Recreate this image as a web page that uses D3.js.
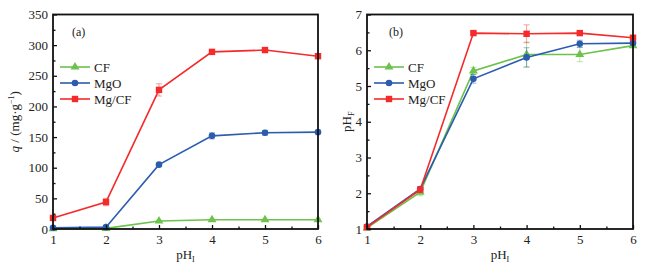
<!DOCTYPE html>
<html>
<head>
<meta charset="utf-8">
<script src="https://cdn.jsdelivr.net/npm/d3@7"></script>
<style>
  body { margin: 0; background: #fff; }
  svg text { font-family: 'Liberation Serif', 'Times New Roman', serif !important; fill: #222; }
</style>
</head>
<body>
<svg id="chart" width="671" height="272"></svg>
<script>
// x values shared by both panels
const phInitial = [1, 2, 3, 4, 5, 6];
const seriesNames = ["CF", "MgO", "Mg/CF"];
const seriesColors = ["#6cc24a", "#2b5cb0", "#f52a2a"];
const seriesShapes = ["triangle", "circle", "square"];

// panel (a): adsorption capacity q
const qCF = [0.5, 1, 13, 15, 15, 15];
const qMgO = [2, 3, 105, 152, 157, 158];
const qMgCF = [18, 44, 227, 289, 292, 282];
const qErrCF = [0, 0, 1, 1, 1, 1];
const qErrMgO = [0, 0, 2, 5, 4, 2];
const qErrMgCF = [2, 6, 10, 4, 3, 3];
const qTicks = [0, 50, 100, 150, 200, 250, 300, 350];

// panel (b): final pH
const pfCF = [1.03, 2.03, 5.42, 5.88, 5.88, 6.13];
const pfMgO = [1.07, 2.12, 5.2, 5.8, 6.18, 6.2];
const pfMgCF = [1.05, 2.1, 6.48, 6.46, 6.48, 6.35];
const pfErrCF = [0.03, 0.1, 0.1, 0.35, 0.2, 0.05];
const pfErrMgO = [0.03, 0.05, 0.12, 0.27, 0.1, 0.05];
const pfErrMgCF = [0.02, 0.05, 0.03, 0.25, 0.05, 0.03];
const pfTicks = [1, 2, 3, 4, 5, 6, 7];

const serif = "'Liberation Serif', 'Times New Roman', serif";
const svg = d3.select("#chart");

function drawPanel(cfg) {
  const x = d3.scaleLinear().domain([1, 6]).range([cfg.left, cfg.right]);
  const y = d3.scaleLinear().domain(cfg.yDomain).range([229, 14.5]);
  const g = svg.append("g").attr("font-family", serif);

  // series lines + error bars + markers
  cfg.values.forEach((vals, i) => {
    const col = seriesColors[i];
    const line = d3.line().x((d, j) => x(phInitial[j])).y(d => y(d));
    g.append("path").datum(vals)
      .attr("d", line).attr("fill", "none")
      .attr("stroke", col).attr("stroke-width", 1.6);

    vals.forEach((v, j) => {
      const e = cfg.errs[i][j];
      if (!e) return;
      const cx = x(phInitial[j]);
      const eb = g.append("g").attr("stroke", col).attr("stroke-opacity", 0.45).attr("stroke-width", 1);
      eb.append("line").attr("x1", cx).attr("x2", cx).attr("y1", y(v - e)).attr("y2", y(v + e));
      eb.append("line").attr("x1", cx - 3).attr("x2", cx + 3).attr("y1", y(v - e)).attr("y2", y(v - e));
      eb.append("line").attr("x1", cx - 3).attr("x2", cx + 3).attr("y1", y(v + e)).attr("y2", y(v + e));
    });

    vals.forEach((v, j) => {
      drawMarker(g, seriesShapes[i], x(phInitial[j]), y(v), col);
    });
  });

  // frame
  g.append("rect")
    .attr("x", cfg.left).attr("y", 14.5)
    .attr("width", cfg.right - cfg.left).attr("height", 229 - 14.5)
    .attr("fill", "none").attr("stroke", "#111").attr("stroke-width", 1.8);

  // axes, ticks inward
  const xAxis = d3.axisBottom(x).tickValues(phInitial).tickSize(-4).tickSizeOuter(0).tickPadding(6).tickFormat(d3.format("d"));
  const xg = g.append("g").attr("transform", `translate(0,229)`).call(xAxis);
  const xMinor = d3.axisBottom(x).tickValues([1.5, 2.5, 3.5, 4.5, 5.5]).tickSize(-2.5).tickSizeOuter(0).tickFormat("");
  const xmg = g.append("g").attr("transform", `translate(0,229)`).call(xMinor);

  const yAxis = d3.axisLeft(y).tickValues(cfg.yTicks).tickSize(-4).tickSizeOuter(0).tickPadding(5).tickFormat(d3.format("d"));
  const yg = g.append("g").attr("transform", `translate(${cfg.left},0)`).call(yAxis);
  const yMinorVals = cfg.yTicks.slice(0, -1).map((t, k) => (t + cfg.yTicks[k + 1]) / 2);
  const ymg = g.append("g").attr("transform", `translate(${cfg.left},0)`)
    .call(d3.axisLeft(y).tickValues(yMinorVals).tickSize(-2.5).tickSizeOuter(0).tickFormat(""));

  [xg, xmg, yg, ymg].forEach(a => {
    a.attr("font-family", serif);
    a.select(".domain").remove();
    a.selectAll(".tick line").attr("stroke", "#111").attr("stroke-width", 1.3);
    a.selectAll("text").attr("font-size", 13).attr("fill", "#222");
  });

  // panel tag
  g.append("text").attr("x", cfg.tagX).attr("y", 36).attr("font-size", 12).text(cfg.tag);

  // x label pH_I
  const xl = g.append("text").attr("x", (cfg.left + cfg.right) / 2).attr("y", 259)
    .attr("text-anchor", "middle").attr("font-size", 13);
  xl.append("tspan").text("pH");
  xl.append("tspan").attr("font-size", 8).attr("dy", 3).text("I");

  // y label
  const yl = g.append("text")
    .attr("transform", `translate(${cfg.yLabelX},${(14.5 + 229) / 2}) rotate(-90)`)
    .attr("text-anchor", "middle").attr("font-size", 13);
  cfg.yLabel(yl);

  // legend
  seriesNames.forEach((name, i) => {
    const ly = 67 + i * 16;
    g.append("line").attr("x1", cfg.legX).attr("x2", cfg.legX + 30)
      .attr("y1", ly).attr("y2", ly)
      .attr("stroke", seriesColors[i]).attr("stroke-width", 1.6);
    drawMarker(g, seriesShapes[i], cfg.legX + 15, ly, seriesColors[i]);
    g.append("text").attr("x", cfg.legX + 34).attr("y", ly + 4.5)
      .attr("font-size", 13).text(name);
  });
}

function drawMarker(g, shape, cx, cy, col) {
  if (shape === "circle") {
    g.append("circle").attr("cx", cx).attr("cy", cy).attr("r", 3.3).attr("fill", col);
  } else if (shape === "square") {
    g.append("rect").attr("x", cx - 3.2).attr("y", cy - 3.2).attr("width", 6.4).attr("height", 6.4).attr("fill", col);
  } else {
    g.append("path").attr("d", d3.symbol(d3.symbolTriangle, 34)()).attr("transform", `translate(${cx},${cy})`).attr("fill", col);
  }
}

drawPanel({
  left: 53, right: 318,
  yDomain: [0, 350], yTicks: qTicks,
  values: [qCF, qMgO, qMgCF], errs: [qErrCF, qErrMgO, qErrMgCF],
  tag: "(a)", tagX: 72, legX: 60, yLabelX: 19,
  yLabel: t => {
    t.append("tspan").attr("font-style", "italic").text("q");
    t.append("tspan").text(" / (mg·g");
    t.append("tspan").attr("font-size", 8).attr("dy", -5).text("−1");
    t.append("tspan").attr("dy", 5).text(")");
  }
});

drawPanel({
  left: 367, right: 633,
  yDomain: [1, 7], yTicks: pfTicks,
  values: [pfCF, pfMgO, pfMgCF], errs: [pfErrCF, pfErrMgO, pfErrMgCF],
  tag: "(b)", tagX: 389, legX: 374, yLabelX: 351,
  yLabel: t => {
    t.append("tspan").text("pH");
    t.append("tspan").attr("font-size", 8).attr("dy", 3).text("F");
  }
});
</script>
</body>
</html>
